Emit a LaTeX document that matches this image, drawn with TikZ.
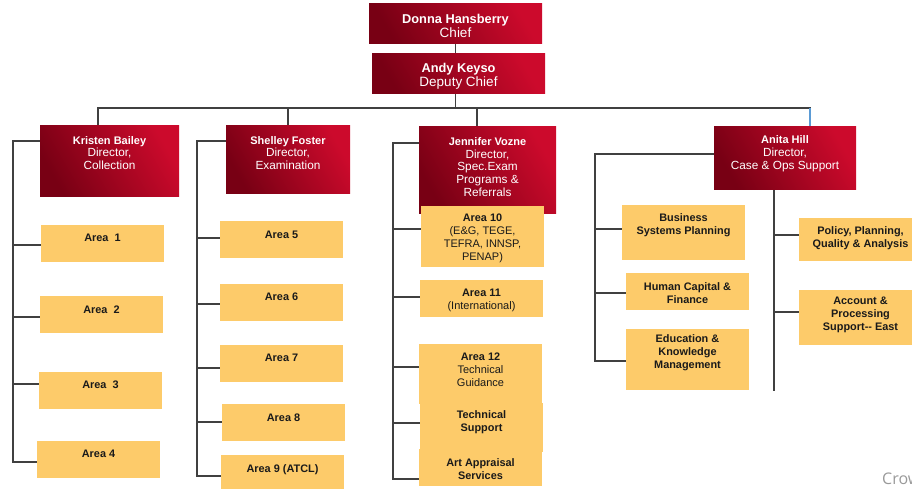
\documentclass[tikz,border=0pt]{standalone}
\usepackage{fontspec}
\setmainfont{Liberation Sans}
\newfontfamily\crowfont{Open Sans}
\usetikzlibrary{backgrounds}
\definecolor{rdark}{HTML}{780014}
\definecolor{rbright}{HTML}{CC0A2C}
\definecolor{ylw}{HTML}{FDCB6A}
\definecolor{lnc}{HTML}{404040}
\definecolor{bln}{HTML}{5B9BD5}
\definecolor{ytx}{HTML}{1A1A1A}
\newcommand\nmA[1]{{\fontsize{12.8}{14}\selectfont\bfseries #1}}
\newcommand\nmB[1]{{\fontsize{11}{12.8}\selectfont\bfseries #1}}
\newcommand\rg[1]{{\fontsize{11}{13}\selectfont\mdseries #1}}
\tikzset{
  rb/.style={rectangle, inner sep=0pt, outer sep=0pt, top color=rbright, bottom color=rdark, shading angle=-60},
  yb/.style={rectangle, inner sep=0pt, outer sep=0pt, fill=ylw},
  toptxt/.style={text=white, align=center, inner sep=0pt, font=\fontsize{13.5}{14}\selectfont},
  dirtxt/.style={text=white, align=center, inner sep=0pt, font=\fontsize{11.8}{12.8}\selectfont},
  ytxt/.style={text=ytx, align=center, inner sep=0pt, font=\fontsize{10.9}{13}\selectfont\bfseries},
  conn/.style={draw=lnc, line width=1.8pt, line cap=rect, line join=miter},
  bluec/.style={draw=bln, line width=1.8pt},
}
% style, text style, name, x1, y1, x2, y2, text dy (px, down), text
\newcommand\obox[9]{%
  \node[#1, minimum width={#6-#4}, minimum height={#7-#5}] (#3) at ({(#4+#6)/2},{(#5+#7)/2}) {};
  \node[#2] (#3t) at ([yshift={-(#8)}]#3.center) {#9};}
% branch from node west to spine, dy in px (down)
\newcommand\br[3]{\coordinate (#1b) at ([yshift={-(#3)}]#1.west); \draw[conn] (#1b) -- (#2 |- #1b);}
\begin{document}
\begin{tikzpicture}[x=1pt, y=-1pt]
\useasboundingbox (0,0) rectangle (912,489);
\clip (0,0) rectangle (912,489);
% top
\obox{rb}{toptxt}{dh}{369}{4}{542}{44}{2}{\nmA{Donna Hansberry}\\Chief}
\obox{rb}{toptxt}{ak}{372}{54}{545}{94}{2}{\nmA{Andy Keyso}\\Deputy Chief}
% directors
\obox{rb}{dirtxt}{kb}{40}{126}{179}{196}{-8}{\nmB{Kristen Bailey}\\Director,\\Collection}
\obox{rb}{dirtxt}{sf}{226}{126}{350}{193}{-6.5}{\nmB{Shelley Foster}\\Director,\\Examination}
\obox{rb}{dirtxt}{jv}{419}{127}{556}{213}{-3}{\nmB{Jennifer Vozne}\\Director,\\Spec.Exam\\Programs \&\\Referrals}
\obox{rb}{dirtxt}{ah}{714}{127}{856}{189}{-4}{\nmB{Anita Hill}\\Director,\\Case \& Ops Support}
% collection
\obox{yb}{ytxt}{a1}{41}{225}{164}{262}{-5.5}{Area\ \ 1}
\obox{yb}{ytxt}{a2}{40}{296}{163}{333}{-4.5}{Area\ \ 2}
\obox{yb}{ytxt}{a3}{39}{372}{162}{409}{-5.5}{Area\ \ 3}
\obox{yb}{ytxt}{a4}{37}{441}{160}{478}{-5.5}{Area 4}
% examination
\obox{yb}{ytxt}{a5}{220}{221}{343}{258}{-4.5}{Area 5}
\obox{yb}{ytxt}{a6}{220}{284}{343}{321}{-5.5}{Area 6}
\obox{yb}{ytxt}{a7}{220}{345}{343}{382}{-5.5}{Area 7}
\obox{yb}{ytxt}{a8}{222}{404}{345}{441}{-4.5}{Area 8}
\obox{yb}{ytxt}{a9}{221}{455}{344}{490}{-3}{Area 9 (ATCL)}
% spec exam
\obox{yb}{ytxt}{a10}{421}{206}{544}{267}{2}{Area 10\\\rg{(E\&G, TEGE,}\\\rg{TEFRA, INNSP,}\\\rg{PENAP)}}
\obox{yb}{ytxt}{a11}{420}{280}{543}{317}{1.5}{Area 11\\\rg{(International)}}
\obox{yb}{ytxt}{a12}{419}{344}{542}{404}{-4}{Area 12\\\rg{Technical}\\\rg{Guidance}}
\obox{yb}{ytxt}{ts}{420}{403}{543}{452}{-5}{Technical\\Support}
\obox{yb}{ytxt}{aa}{419}{449}{542}{486}{2}{Art Appraisal\\Services}
% case & ops
\obox{yb}{ytxt}{bsp}{622}{205}{745}{260}{-7.5}{Business\\Systems Planning}
\obox{yb}{ytxt}{hcf}{626}{273}{749}{310}{2}{Human Capital \&\\Finance}
\obox{yb}{ytxt}{ekm}{626}{329}{749}{390}{-6.5}{Education \&\\Knowledge\\Management}
\obox{yb}{ytxt}{ppq}{799}{218}{922}{261}{-1}{Policy, Planning,\\Quality \& Analysis}
\obox{yb}{ytxt}{aps}{799}{290}{922}{345}{-2.5}{Account \&\\Processing\\Support-{}- East}
% watermark
\node[anchor=base west, inner sep=0pt, text=black!40, font=\crowfont\fontsize{16}{18}\selectfont] (crow) at (882,484) {Crow};
\begin{pgfonlayer}{background}
  % top connectors and bus
  \coordinate (bus) at (0,108);
  \draw[conn] (dh.south) -- (dh.south |- ak.north);
  \draw[conn] (dh.south |- ak.south) -- (dh.south |- bus);
  \coordinate (kd) at ([xshift=-11.5pt]kb.north);
  \coordinate (jd) at ([xshift=-10.5pt]jv.north);
  \coordinate (ad) at ([xshift=25pt]ah.north);
  \draw[conn] (kd) -- (kd |- bus) -- (ad |- bus);
  \draw[conn] (sf.north) -- (sf.north |- bus);
  \draw[conn] (jd) -- (jd |- bus);
  \draw[bluec] (ad) -- (ad |- bus);
  % spines
  \coordinate (ks) at (13,0);
  \coordinate (ss) at (197,0);
  \coordinate (js) at (393,0);
  \coordinate (als) at (595,0);
  \br{a1}{ks}{1.5} \br{a2}{ks}{2.5} \br{a3}{ks}{-6.5} \br{a4}{ks}{2.5}
  \draw[conn] ([yshift=-15pt]kb.north west) -| (ks |- a4b);
  \br{a5}{ss}{-1.5} \br{a6}{ss}{1.5} \br{a7}{ss}{4.5} \br{a8}{ss}{-0.5} \br{a9}{ss}{3.5}
  \draw[conn] ([yshift=-15pt]sf.north west) -| (ss |- a9b);
  \br{a10}{js}{-7.5} \br{a11}{js}{-1.5} \br{a12}{js}{-7} \br{ts}{js}{-4.5} \br{aa}{js}{11.5}
  \draw[conn] ([yshift=-16pt]jv.north west) -| (js |- aab);
  \br{bsp}{als}{-3.5} \br{hcf}{als}{1.5} \br{ekm}{als}{1.5}
  \draw[conn] ([yshift=-27pt]ah.north west) -| (als |- ekmb);
  \coordinate (ahs) at ([xshift=-11pt]ah.south);
  \draw[conn] (ahs) -- (ahs |- ekm.south);
  \br{ppq}{ahs}{-4.5} \br{aps}{ahs}{-5.5}
\end{pgfonlayer}
\end{tikzpicture}
\end{document}
